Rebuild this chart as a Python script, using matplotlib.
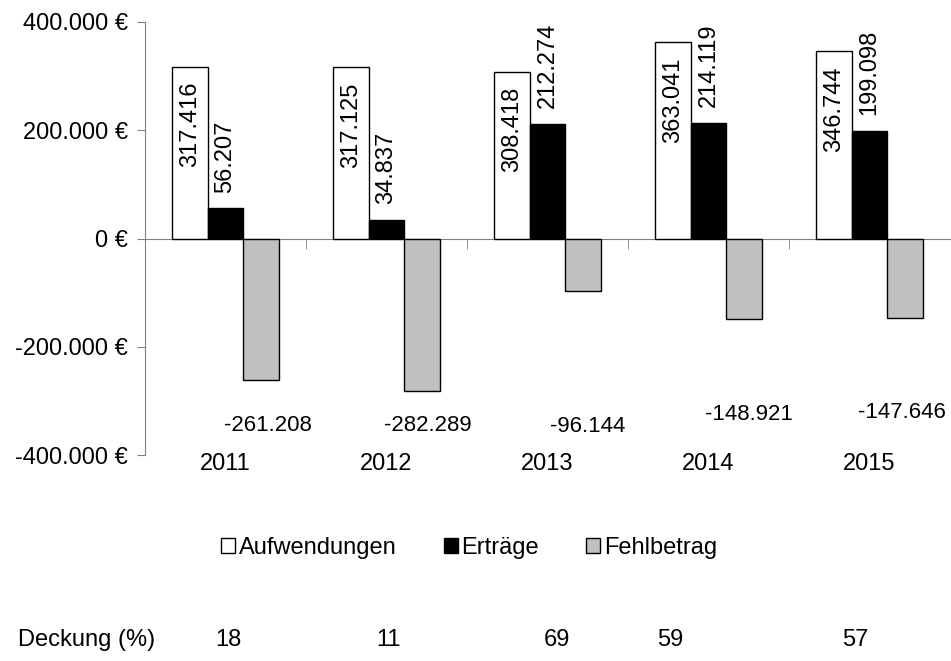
import matplotlib
matplotlib.use("Agg")
import matplotlib.pyplot as plt
import numpy as np

years = ["2011", "2012", "2013", "2014", "2015"]
aufwendungen = [317416, 317125, 308418, 363041, 346744]
ertraege = [56207, 34837, 212274, 214119, 199098]
fehlbetrag = [-261208, -282289, -96144, -148921, -147646]
deckung = ["18", "11", "69", "59", "57"]
series_names = ["Aufwendungen", "Erträge", "Fehlbetrag"]
yticks = [-400000, -200000, 0, 200000, 400000]
ytick_labels = ["-400.000 €", "-200.000 €", "0 €", "200.000 €", "400.000 €"]

# label placement (positions only)
fehl_label_y = [-345000, -345000, -348000, -325000, -322000]
fehl_label_dx = [7, 6, 4, 5, -3]
deckung_x_px = [228, 388, 557, 670, 855]

def fmt(v):
    s = f"{abs(v):,}".replace(",", ".")
    return ("-" if v < 0 else "") + s

plt.rcParams['font.family'] = ['Liberation Sans Narrow', 'Liberation Sans', 'DejaVu Sans']

W, H = 951, 661
fig = plt.figure(figsize=(W / 100, H / 100), dpi=100)
ax = fig.add_axes([145 / W, 1 - 455 / H, (950 - 145) / W, (455 - 22) / H])

x = np.arange(len(years))
w = 0.222
gray = "#c0c0c0"
b1 = ax.bar(x - w, aufwendungen, w, color="white", edgecolor="black", linewidth=1, label=series_names[0], zorder=3)
b2 = ax.bar(x, ertraege, w, color="black", edgecolor="black", linewidth=1, label=series_names[1], zorder=3)
b3 = ax.bar(x + w, fehlbetrag, w, color=gray, edgecolor="black", linewidth=1, label=series_names[2], zorder=3)

fs = 17
for xi, v in zip(x - w, aufwendungen):
    ax.annotate(fmt(v), (xi, v), xytext=(0, -11), textcoords="offset points",
                rotation=90, ha="center", va="top", fontsize=fs, zorder=4)
for xi, v in zip(x, ertraege):
    ax.annotate(fmt(v), (xi, v), xytext=(0, 11), textcoords="offset points",
                rotation=90, ha="center", va="bottom", fontsize=fs, zorder=4)
for xi, v, ly, dx in zip(x + w, fehlbetrag, fehl_label_y, fehl_label_dx):
    ax.annotate(fmt(v), (xi, ly), xytext=(dx * 0.72, 0), textcoords="offset points",
                ha="center", va="center", fontsize=16, zorder=4)

ax.set_xlim(-0.5, len(years) - 0.5)
ax.set_ylim(-400000, 400000)
ax.set_yticks(yticks)
ax.set_yticklabels(ytick_labels, fontsize=fs)
ax.tick_params(axis="y", direction="out", length=6, color="#808080", pad=6)

for s in ["top", "right"]:
    ax.spines[s].set_visible(False)
ax.spines["left"].set_color("#808080")
ax.spines["bottom"].set_position(("data", 0))
ax.spines["bottom"].set_color("#808080")
ax.set_xticks([])
ax.set_xticks(np.arange(0.5, len(years) - 0.5, 1), minor=True)
ax.tick_params(axis="x", which="minor", direction="out", length=7, color="#808080", labelbottom=False)

trans = matplotlib.transforms.blended_transform_factory(ax.transData, ax.transAxes)
for xi, yr in zip(x, years):
    ax.text(xi, -0.02, yr, transform=trans, ha="center", va="center", fontsize=fs)

leg = fig.legend(handles=[b1, b2, b3], labels=series_names, loc="center",
                 bbox_to_anchor=(469 / W, 1 - 548 / H), ncol=3, frameon=False,
                 fontsize=fs, handlelength=0.6, handleheight=0.6, handletextpad=0.15,
                 columnspacing=2.0)

fig.text(18 / W, 1 - 640 / H, "Deckung (%)", ha="left", va="center", fontsize=fs)
for px, d in zip(deckung_x_px, deckung):
    fig.text(px / W, 1 - 640 / H, d, ha="center", va="center", fontsize=fs)

fig.savefig("out.png", dpi=100)
